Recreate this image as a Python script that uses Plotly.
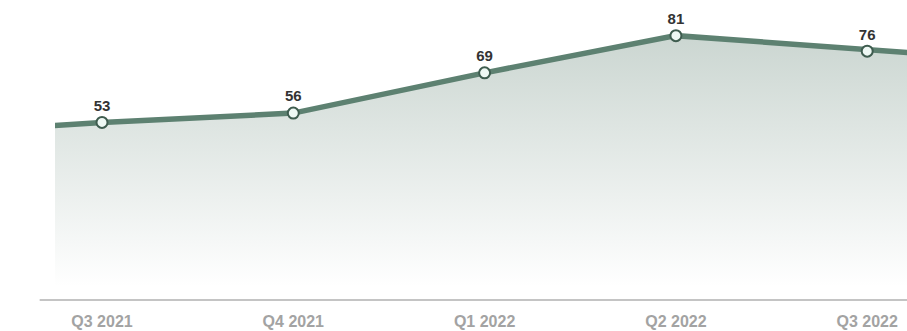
import plotly.graph_objects as go

quarters = ["Q3 2021", "Q4 2021", "Q1 2022", "Q2 2022", "Q3 2022"]
values = [53, 56, 69, 81, 76]
# partially visible neighbours at the clipped edges
prev_label, prev_value = "Q2 2021", 49
next_label, next_value = "Q4 2022", 72

pos = list(range(len(quarters)))
line_x = [-1] + pos + [len(quarters)]
line_y = [prev_value] + values + [next_value]

LINE = "#5d8171"
fig = go.Figure()
fig.add_trace(go.Scatter(
    x=line_x, y=line_y, mode="lines",
    line=dict(color=LINE, width=5.5),
    fill="tozeroy",
    fillgradient=dict(type="vertical",
                      colorscale=[[0, "rgba(255,255,255,1)"], [1, "rgb(203,214,209)"]]),
    hoverinfo="skip", showlegend=False,
))
fig.add_trace(go.Scatter(
    x=pos, y=values, mode="markers+text",
    text=[str(v) for v in values], textposition="top center",
    textfont=dict(family="Liberation Sans, Arial", size=15, color="#333333", weight="bold"),
    marker=dict(size=11, color="#eef8f4", line=dict(color="#3e5c4f", width=2)),
    showlegend=False, cliponaxis=False,
))

fig.add_shape(type="line", xref="paper", yref="paper", x0=-0.018, x1=1, y0=0, y1=0,
              line=dict(color="#c4c4c4", width=2))

fig.update_layout(
    width=907, height=331,
    margin=dict(l=55, r=0, t=0, b=31),
    paper_bgcolor="white", plot_bgcolor="white",
    xaxis=dict(range=[-0.2457, 4.208], tickvals=pos, ticktext=quarters,
               showgrid=False, zeroline=False, showline=False, ticks="",
               ticklabelstandoff=10,
               tickfont=dict(family="Liberation Sans, Arial", size=16, color="#a3a3a3", weight="bold")),
    yaxis=dict(range=[-4.3, 92.5], visible=False, showgrid=False, zeroline=False),
)
fig.write_html("out.html", config={"displayModeBar": False},
               post_script="document.body.style.margin='0';document.body.style.padding='0';document.body.style.overflow='hidden';")
